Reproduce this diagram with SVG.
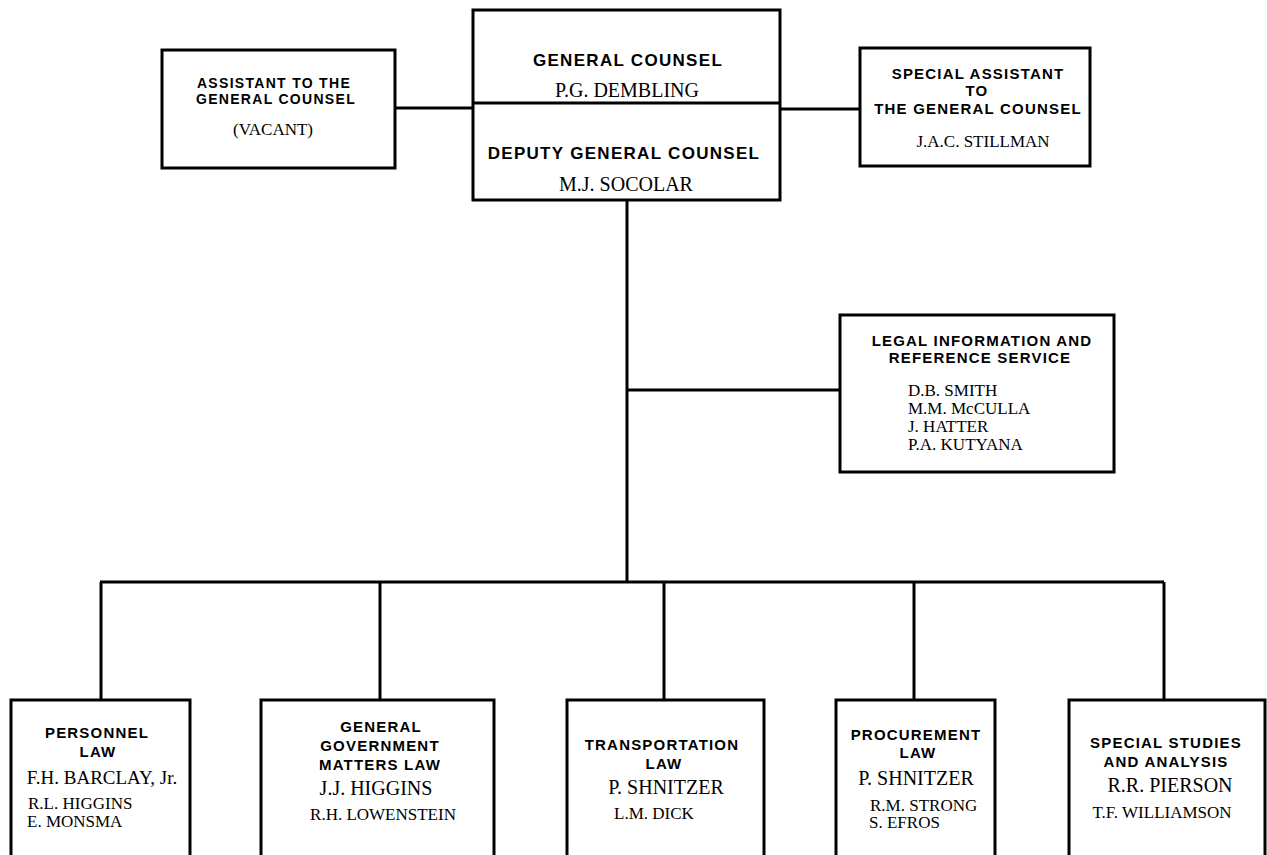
<svg xmlns="http://www.w3.org/2000/svg" width="1267" height="855" viewBox="0 0 1267 855">
<style>
.box{fill:#fff;stroke:#000;stroke-width:3}
.ln{stroke:#000;stroke-width:3;fill:none}
.h{font-family:"Liberation Sans",Arial,sans-serif;font-weight:bold;font-size:15px;letter-spacing:1.2px;text-anchor:middle;fill:#000}
.hs{font-size:14px;letter-spacing:1.3px}
.hb{font-size:17px;letter-spacing:1.3px}
.n{font-family:"Liberation Serif","Times New Roman",serif;font-size:20px;text-anchor:middle;fill:#000}
.s{font-family:"Liberation Serif","Times New Roman",serif;font-size:17px;fill:#000}
.m{text-anchor:middle}
</style>
<rect width="1267" height="855" fill="#fff"/>
<g id="connectors">
<line class="ln" x1="395" y1="108" x2="473" y2="108"/>
<line class="ln" x1="780" y1="109" x2="860" y2="109"/>
<line class="ln" x1="627" y1="200" x2="627" y2="582"/>
<line class="ln" x1="627" y1="390" x2="840" y2="390"/>
<line class="ln" x1="100" y1="582" x2="1164" y2="582"/>
<line class="ln" x1="101" y1="582" x2="101" y2="700"/>
<line class="ln" x1="380" y1="582" x2="380" y2="700"/>
<line class="ln" x1="664" y1="582" x2="664" y2="700"/>
<line class="ln" x1="914" y1="582" x2="914" y2="700"/>
<line class="ln" x1="1164" y1="582" x2="1164" y2="700"/>
</g>
<g id="general-counsel">
<rect class="box" x="473" y="10" width="307" height="190"/>
<line class="ln" x1="473" y1="103" x2="780" y2="103"/>
<text class="h hb" x="628" y="66">GENERAL COUNSEL</text>
<text class="n" x="627" y="97">P.G. DEMBLING</text>
<text class="h hb" x="624" y="159">DEPUTY GENERAL COUNSEL</text>
<text class="n" x="626" y="191">M.J. SOCOLAR</text>
</g>
<g id="assistant">
<rect class="box" x="162" y="50" width="233" height="118"/>
<text class="h hs" x="274" y="88">ASSISTANT TO THE</text>
<text class="h hs" x="276" y="104">GENERAL COUNSEL</text>
<text class="s m" x="273" y="135">(VACANT)</text>
</g>
<g id="special-assistant">
<rect class="box" x="860" y="48" width="230" height="118"/>
<text class="h" x="978" y="79">SPECIAL ASSISTANT</text>
<text class="h" x="977" y="96">TO</text>
<text class="h" x="978" y="114">THE GENERAL COUNSEL</text>
<text class="s m" x="983" y="147">J.A.C. STILLMAN</text>
</g>
<g id="legal-information">
<rect class="box" x="840" y="315" width="274" height="157"/>
<text class="h" x="982" y="346">LEGAL INFORMATION AND</text>
<text class="h" x="980" y="363">REFERENCE SERVICE</text>
<text class="s" x="908" y="396">D.B. SMITH</text>
<text class="s" x="908" y="414">M.M. McCULLA</text>
<text class="s" x="908" y="432">J. HATTER</text>
<text class="s" x="908" y="450">P.A. KUTYANA</text>
</g>
<g id="personnel-law">
<rect class="box" x="11" y="700" width="179" height="170"/>
<text class="h" x="97" y="738">PERSONNEL</text>
<text class="h" x="98" y="757">LAW</text>
<text class="n" x="102" y="784" style="font-size:19px">F.H. BARCLAY, Jr.</text>
<text class="s" x="28" y="809">R.L. HIGGINS</text>
<text class="s" x="27" y="827">E. MONSMA</text>
</g>
<g id="general-government-matters-law">
<rect class="box" x="261" y="700" width="233" height="170"/>
<text class="h" x="381" y="732">GENERAL</text>
<text class="h" x="380" y="751">GOVERNMENT</text>
<text class="h" x="380" y="770">MATTERS LAW</text>
<text class="n" x="376" y="795">J.J. HIGGINS</text>
<text class="s m" x="383" y="820">R.H. LOWENSTEIN</text>
</g>
<g id="transportation-law">
<rect class="box" x="567" y="700" width="197" height="170"/>
<text class="h" x="662" y="750">TRANSPORTATION</text>
<text class="h" x="664" y="769">LAW</text>
<text class="n" x="666" y="794">P. SHNITZER</text>
<text class="s" x="614" y="819">L.M. DICK</text>
</g>
<g id="procurement-law">
<rect class="box" x="836" y="700" width="159" height="170"/>
<text class="h" x="916" y="740">PROCUREMENT</text>
<text class="h" x="918" y="758">LAW</text>
<text class="n" x="916" y="785">P. SHNITZER</text>
<text class="s" x="870" y="811">R.M. STRONG</text>
<text class="s" x="869" y="828">S. EFROS</text>
</g>
<g id="special-studies">
<rect class="box" x="1069" y="700" width="196" height="170"/>
<text class="h" x="1166" y="748">SPECIAL STUDIES</text>
<text class="h" x="1166" y="767">AND ANALYSIS</text>
<text class="n" x="1170" y="792">R.R. PIERSON</text>
<text class="s m" x="1162" y="818">T.F. WILLIAMSON</text>
</g>
</svg>
